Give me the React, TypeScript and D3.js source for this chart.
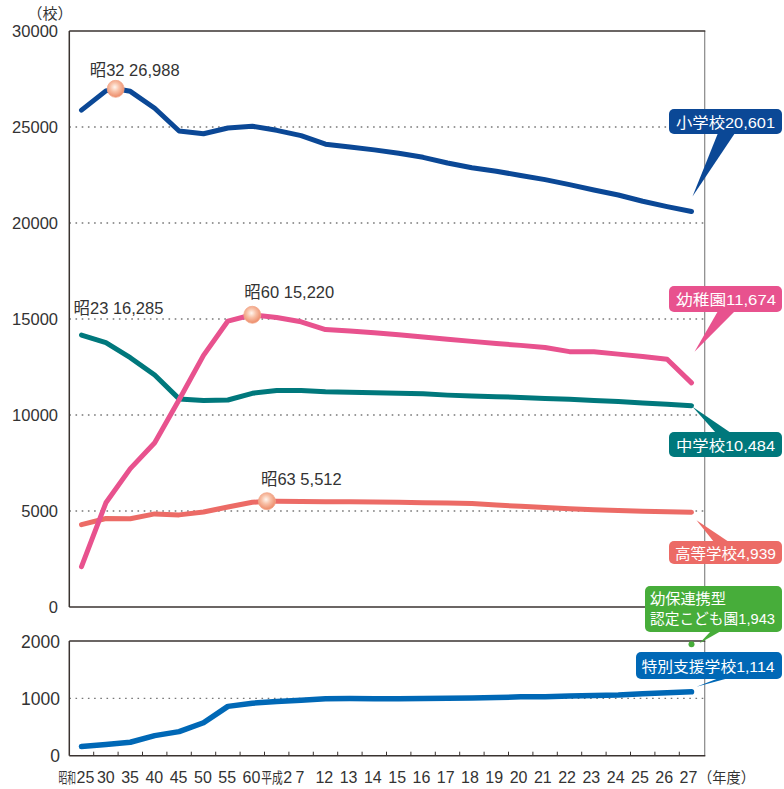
import React from "react";
import * as d3 from "d3";

// ---------- data ----------
const years = [1950, 1955, 1960, 1965, 1970, 1975, 1980, 1985, 1990, 1995, 2000, 2001, 2002, 2003, 2004, 2005, 2006, 2007, 2008, 2009, 2010, 2011, 2012, 2013, 2014, 2015];
const tickLabels = ["25", "30", "35", "40", "45", "50", "55", "60", "2", "7", "12", "13", "14", "15", "16", "17", "18", "19", "20", "21", "22", "23", "24", "25", "26", "27"];
const tickPrefixes = ["昭和", "", "", "", "", "", "", "", "平成", "", "", "", "", "", "", "", "", "", "", "", "", "", "", "", "", ""];

const elementary = [25878, 26880, 26858, 25977, 24790, 24650, 24945, 25040, 24827, 24548, 24106, 23964, 23808, 23633, 23420, 23123, 22878, 22693, 22476, 22258, 22000, 21721, 21460, 21131, 20852, 20601];
const kindergarten = [2100, 5426, 7207, 8551, 10796, 13106, 14893, 15220, 15076, 14856, 14451, 14375, 14279, 14174, 14061, 13949, 13835, 13723, 13626, 13516, 13300, 13290, 13170, 13043, 12905, 11674];
const juniorHigh = [14165, 13767, 12986, 12079, 10839, 10751, 10780, 11131, 11275, 11274, 11209, 11191, 11159, 11134, 11102, 11035, 10992, 10955, 10915, 10864, 10815, 10751, 10699, 10628, 10557, 10484];
const highSchool = [4292, 4607, 4598, 4849, 4798, 4946, 5208, 5453, 5506, 5501, 5478, 5479, 5472, 5450, 5429, 5418, 5385, 5313, 5243, 5183, 5116, 5060, 5022, 4981, 4963, 4939];
const special = [160, 195, 235, 350, 420, 575, 860, 915, 947, 967, 992, 996, 995, 995, 999, 1002, 1006, 1013, 1026, 1030, 1039, 1049, 1059, 1080, 1096, 1114];
const kodomoenYear = 2015;
const kodomoenValue = 1943;

const peakSeries = ["elementary", "kindergarten", "highSchool"];
const peakYears = [1957, 1985, 1988];
const peakValues = [26988, 15220, 5512];
const peakLabels = ["昭32 26,988", "昭60 15,220", "昭63 5,512"];

const noteYear = 1950;
const noteValue = 16285;
const noteLabel = "昭23 16,285";

const topTicks = [0, 5000, 10000, 15000, 20000, 25000, 30000];
const bottomTicks = [0, 1000, 2000];

const calloutNames = ["小学校20,601", "幼稚園11,674", "中学校10,484", "高等学校4,939", "幼保連携型|認定こども園1,943", "特別支援学校1,114"];

// ---------- layout ----------
const W = 784, H = 789;
const X0 = 69.3, X1 = 703.7;
const TOP_Y0 = 607, TOP_Y1 = 31;
const BOT_Y0 = 755.7, BOT_Y1 = 641;
const FONT = "'Liberation Sans', Arial, 'Noto Sans CJK JP', sans-serif";

const bw = (X1 - X0) / years.length;
const x = d3.scaleLinear().domain(years).range(years.map((_, i) => X0 + bw * (i + 0.5)));
const yTop = d3.scaleLinear().domain([0, 30000]).range([TOP_Y0, TOP_Y1]);
const yBot = d3.scaleLinear().domain([0, 2000]).range([BOT_Y0, BOT_Y1]);

const COLORS: Record<string, string> = {
  elementary: "#0b4896",
  kindergarten: "#e8528e",
  juniorHigh: "#00787c",
  highSchool: "#ec6b66",
  special: "#0068b6",
  kodomoen: "#47ad3a",
};

const seriesMap: Record<string, number[]> = { elementary, kindergarten, juniorHigh, highSchool };

function seriesPoints(name: string): [number, number][] {
  const pts: [number, number][] = years.map((yr, i) => [yr, seriesMap[name][i]]);
  peakSeries.forEach((s, k) => {
    if (s === name && !years.includes(peakYears[k])) pts.push([peakYears[k], peakValues[k]]);
  });
  pts.sort((a, b) => a[0] - b[0]);
  return pts;
}

const lineTop = d3.line<[number, number]>().x((d) => x(d[0])).y((d) => yTop(d[1]));
const lineBot = d3.line<[number, number]>().x((d) => x(d[0])).y((d) => yBot(d[1]));

// label offsets for peaks (layout)
const peakOffsets = [[-26, -13], [-8, -17], [-6, -16]];

type Callout = {
  color: string; bx: number; by: number; bw: number; bh: number;
  base: [number, number, number, number]; tip: [number, number];
  tx: number; widths: number[];
};

const lastYear = years[years.length - 1];
const lastIdx = years.length - 1;
const callouts: Callout[] = [
  { color: COLORS.elementary, bx: 669, by: 109, bw: 113, bh: 25, base: [718, 133, 735, 133], tip: [x(lastYear) + 1, yTop(elementary[lastIdx]) - 15], tx: 676, widths: [99] },
  { color: COLORS.kindergarten, bx: 669, by: 286, bw: 113, bh: 26, base: [718, 311, 735, 311], tip: [x(lastYear) + 3, yTop(kindergarten[lastIdx]) - 31], tx: 676, widths: [100] },
  { color: COLORS.juniorHigh, bx: 669, by: 432, bw: 113, bh: 25, base: [716, 433, 731, 433], tip: [x(lastYear) + 1, yTop(juniorHigh[lastIdx]) + 1], tx: 676, widths: [99] },
  { color: COLORS.highSchool, bx: 669, by: 541, bw: 113, bh: 23, base: [714, 542, 729, 542], tip: [x(lastYear) + 5, yTop(highSchool[lastIdx]) + 8], tx: 675, widths: [101] },
  { color: COLORS.kodomoen, bx: 645, by: 586, bw: 137, bh: 46, base: [711, 631, 721, 631], tip: [x(kodomoenYear) + 8, yBot(kodomoenValue) - 1], tx: 650, widths: [76, 125] },
  { color: COLORS.special, bx: 636, by: 652, bw: 146, bh: 27, base: [719, 678, 729, 678], tip: [x(lastYear) + 5, yBot(special[lastIdx]) - 5], tx: 641.5, widths: [133] },
];

export default function App() {
  const textColor = "#333";
  return (
    <svg width={W} height={H} style={{ position: "absolute", left: 0, top: 0, display: "block", background: "#fff" }} fontFamily={FONT}>
      <defs>
        <radialGradient id="peakGrad" cx="45%" cy="40%" r="60%">
          <stop offset="0%" stopColor="#fff6ef" />
          <stop offset="45%" stopColor="#f8c0a6" />
          <stop offset="100%" stopColor="#ec8a68" />
        </radialGradient>
      </defs>

      {/* unit label */}
      <text x={50} y={19} fontSize={15} fill={textColor} textAnchor="middle">（校）</text>

      {/* grid */}
      {topTicks.filter((t) => t > 0 && t < 30000).map((t) => (
        <line key={"gt" + t} x1={X0} x2={X1 + 1} y1={yTop(t)} y2={yTop(t)} stroke="#777" strokeWidth={1.4} strokeDasharray="1.6 4.6" />
      ))}
      {bottomTicks.filter((t) => t > 0 && t < 2000).map((t) => (
        <line key={"gb" + t} x1={X0} x2={X1 + 1} y1={yBot(t)} y2={yBot(t)} stroke="#777" strokeWidth={1.4} strokeDasharray="1.6 4.6" />
      ))}

      {/* frames */}
      <line x1={X1 + 1} x2={X1 + 1} y1={TOP_Y1} y2={TOP_Y0} stroke="#888" strokeWidth={1.2} />
      <line x1={X1 + 1} x2={X1 + 1} y1={BOT_Y1} y2={BOT_Y0} stroke="#888" strokeWidth={1.2} />
      <line x1={X0} x2={X1 + 1.6} y1={TOP_Y1} y2={TOP_Y1} stroke="#3a3330" strokeWidth={1.5} />
      <line x1={X0} x2={X1 + 1.6} y1={TOP_Y0} y2={TOP_Y0} stroke="#3a3330" strokeWidth={1.5} />
      <line x1={X0} x2={X0} y1={TOP_Y1} y2={TOP_Y0} stroke="#3a3330" strokeWidth={1.5} />
      <line x1={X0} x2={X1 + 1.6} y1={BOT_Y1} y2={BOT_Y1} stroke="#3a3330" strokeWidth={1.5} />
      <line x1={X0} x2={X1 + 1.6} y1={BOT_Y0} y2={BOT_Y0} stroke="#3a3330" strokeWidth={1.5} />
      <line x1={X0} x2={X0} y1={BOT_Y1} y2={BOT_Y0} stroke="#3a3330" strokeWidth={1.5} />

      {/* x ticks */}
      {years.slice(1).map((_, i) => {
        const xx = X0 + bw * (i + 1);
        return <line key={"xt" + i} x1={xx} x2={xx} y1={BOT_Y0} y2={BOT_Y0 - 4} stroke="#3a3330" strokeWidth={1} />;
      })}

      {/* y tick labels */}
      {topTicks.map((t) => (
        <text key={"yl" + t} x={58} y={yTop(t) + 6} fontSize={16.5} fill={textColor} textAnchor="end">{t}</text>
      ))}
      {bottomTicks.map((t) => (
        <text key={"ylb" + t} x={60} y={yBot(t) + 6.5} fontSize={17.5} fill={textColor} textAnchor="end">{t}</text>
      ))}

      {/* x tick labels */}
      {years.map((yr, i) => {
        const cx = x(yr) - (i / (years.length - 1)) * 3;
        const pre = tickPrefixes[i];
        if (!pre) {
          return <text key={"xl" + i} x={cx} y={783} fontSize={16} fill={textColor} textAnchor="middle">{tickLabels[i]}</text>;
        }
        const isShowa = pre === "昭和";
        const numStart = isShowa ? cx - 5 : cx + 7.5;
        const preW = isShowa ? 17.5 : 21.5;
        const sx = preW / 30; // natural width of two 15px CJK glyphs
        return (
          <g key={"xl" + i}>
            <text transform={`translate(${numStart - preW - 0.5},783) scale(${sx},1)`} fontSize={15} fill={textColor}>{pre}</text>
            <text x={numStart} y={783} fontSize={16} fill={textColor}>{tickLabels[i]}</text>
          </g>
        );
      })}
      <text transform="translate(698,783) scale(0.95,1)" fontSize={15} fill={textColor}>（年度）</text>

      {/* lines */}
      {["juniorHigh", "highSchool", "kindergarten", "elementary"].map((name) => (
        <path key={name} d={lineTop(seriesPoints(name)) || ""} fill="none" stroke={COLORS[name]} strokeWidth={5} strokeLinecap="round" strokeLinejoin="round" />
      ))}
      <path d={lineBot(years.map((yr, i) => [yr, special[i]] as [number, number])) || ""} fill="none" stroke={COLORS.special} strokeWidth={5.5} strokeLinecap="round" strokeLinejoin="round" />
      <circle cx={x(kodomoenYear)} cy={yBot(kodomoenValue)} r={3} fill={COLORS.kodomoen} />

      {/* peak markers */}
      {peakYears.map((yr, k) => (
        <g key={"pk" + k}>
          <circle cx={x(yr)} cy={yTop(peakValues[k])} r={8.5} fill="url(#peakGrad)" stroke="#f3a88c" strokeWidth={0.8} />
          <text x={x(yr) + peakOffsets[k][0]} y={yTop(peakValues[k]) + peakOffsets[k][1]} fontSize={16.5} fill={textColor}>{peakLabels[k]}</text>
        </g>
      ))}
      <text x={x(noteYear) - 8} y={yTop(noteValue) + 20} fontSize={16.5} fill={textColor}>{noteLabel}</text>

      {/* callouts */}
      {callouts.map((c, i) => {
        const lines = calloutNames[i].split("|");
        return (
          <g key={"co" + i}>
            <path d={`M${c.base[0]},${c.base[1]}L${c.tip[0]},${c.tip[1]}L${c.base[2]},${c.base[3]}Z`} fill={c.color} />
            <rect x={c.bx} y={c.by} width={c.bw} height={c.bh} rx={5} fill={c.color} />
            {lines.map((ln, j) => (
              <text key={j} x={c.tx} y={c.by + (lines.length > 1 ? 18 + j * 20 : c.bh / 2 + 6)} fontSize={15} fill="#fff"
                textLength={c.widths[j]} lengthAdjust="spacingAndGlyphs">{ln}</text>
            ))}
          </g>
        );
      })}
    </svg>
  );
}
